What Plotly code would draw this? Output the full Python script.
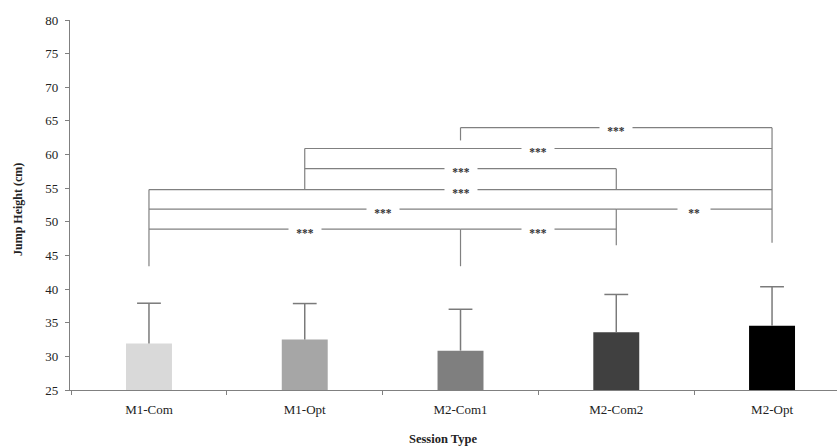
import plotly.graph_objects as go

# ---- data ----
sessions = ["M1-Com", "M1-Opt", "M2-Com1", "M2-Com2", "M2-Opt"]
mean_height = [31.9, 32.5, 30.85, 33.6, 34.55]
sd_height = [6.0, 5.35, 6.15, 5.6, 5.8]
bar_colors = ["#d9d9d9", "#a6a6a6", "#7f7f7f", "#404040", "#000000"]

# significance brackets: (left session index, right session index, level, label)
brackets = [
    (2, 4, 64.0, "***"),
    (1, 4, 60.9, "***"),
    (1, 3, 57.9, "***"),
    (0, 4, 54.8, "***"),
    (0, 3, 51.9, "***"),
    (3, 4, 51.9, "**"),
    (0, 2, 48.9, "***"),
    (2, 3, 48.9, "***"),
]
# vertical bracket legs: (session index, top, bottom)
legs = [
    (0, 54.8, 43.4),
    (1, 60.9, 54.8),
    (2, 64.0, 62.1),
    (2, 48.9, 43.4),
    (3, 57.9, 54.8),
    (3, 51.9, 46.5),
    (4, 64.0, 46.9),
]

xpos = list(range(len(sessions)))
FONT = "Liberation Serif"
LINE = "#808080"
ERR = "#7a7a7a"

fig = go.Figure()
fig.add_trace(go.Bar(
    x=xpos, y=mean_height, width=0.295,
    marker=dict(color=bar_colors, line=dict(width=0)),
    showlegend=False, hoverinfo="skip",
))

# upward-only error bars: stem from mean to mean+sd, cap at the top
upper = [m + s for m, s in zip(mean_height, sd_height)]
for k in xpos:
    fig.add_trace(go.Scatter(x=[k, k], y=[mean_height[k], upper[k]], mode="lines",
                             line=dict(color=ERR, width=1.5),
                             showlegend=False, hoverinfo="skip"))
fig.add_trace(go.Scatter(x=xpos, y=upper, mode="markers",
                         marker=dict(symbol="line-ew", size=17,
                                     line=dict(color=ERR, width=1.5)),
                         showlegend=False, hoverinfo="skip"))

for i, j, lvl, lab in brackets:
    fig.add_trace(go.Scatter(x=[i, j], y=[lvl, lvl], mode="lines",
                             line=dict(color=LINE, width=1.2),
                             showlegend=False, hoverinfo="skip"))
for k, top, bot in legs:
    fig.add_trace(go.Scatter(x=[k, k], y=[top, bot], mode="lines",
                             line=dict(color=LINE, width=1.2),
                             showlegend=False, hoverinfo="skip"))

for i, j, lvl, lab in brackets:
    fig.add_annotation(x=(i + j) / 2, y=lvl, text="<b>" + lab + "</b>", showarrow=False,
                       font=dict(family=FONT, size=11.5, color="#333333"),
                       bgcolor="white", width=30, height=9,
                       xanchor="center", yanchor="middle", yshift=-3)

fig.add_annotation(xref="paper", yref="paper", x=(18 - 70) / 767, y=(390 - 210) / 370,
                   text="<b>Jump Height (cm)</b>", textangle=-90, showarrow=False,
                   font=dict(family=FONT, size=12, color="#222222"),
                   xanchor="center", yanchor="middle")
fig.add_annotation(xref="paper", yref="paper", x=(443 - 70) / 767, y=(390 - 439) / 370,
                   text="<b>Session Type</b>", showarrow=False,
                   font=dict(family=FONT, size=12.5, color="#222222"),
                   xanchor="center", yanchor="middle")

fig.update_layout(
    width=837, height=446,
    margin=dict(l=70, r=0, t=20, b=56),
    plot_bgcolor="white", paper_bgcolor="white",
    font=dict(family=FONT, size=12, color="#222222"),
    xaxis=dict(range=[-0.507, 4.417], tickvals=xpos, ticktext=sessions,
               ticks="", showline=True, linecolor=LINE, linewidth=1.2,
               showgrid=False, zeroline=False, ticklabelstandoff=7,
               minor=dict(tick0=0.5, dtick=1, ticks="outside", ticklen=4,
                          tickcolor=LINE, showgrid=False),
               tickfont=dict(family=FONT, size=13, color="#222222")),
    yaxis=dict(range=[25, 80], dtick=5, ticks="outside", ticklen=4,
               tickcolor=LINE, showline=True, linecolor=LINE, linewidth=1.2,
               showgrid=False, zeroline=False, ticklabelstandoff=4,
               tickfont=dict(family=FONT, size=13, color="#222222")),
)

fig.write_html("out.html")
